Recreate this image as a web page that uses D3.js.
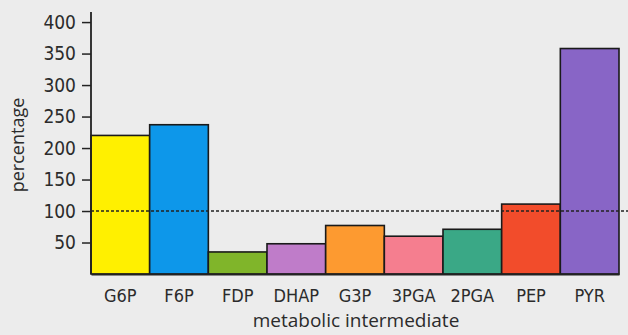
<!DOCTYPE html>
<html lang="en">
<head>
<meta charset="UTF-8">
<title>metabolic intermediates</title>
<script src="https://cdn.jsdelivr.net/npm/d3@7"></script>
<style>
    body { margin: 0; background-color: #ececec; }
    svg { display: block; }
    text { fill: #2b2b2b; }
</style>
</head>
<body>
<script>
    let width = 628;
    let height = 335;

    // data
    let categories = ["G6P", "F6P", "FDP", "DHAP", "G3P", "3PGA", "2PGA", "PEP", "PYR"];
    let values = [220, 237, 35, 48, 77, 60, 71, 111, 358];
    let colours = ["#fff000", "#0d97ea", "#80b52a", "#bf7cc9", "#fd9a30", "#f57e8f", "#3aa886", "#f24c2b", "#8865c6"];
    let yTicks = [50, 100, 150, 200, 250, 300, 350, 400];
    let reference = 100;

    let margin = { left: 91, right: 9, top: 12, bottom: 61 };
    let labelFont = "'Liberation Sans Narrow', 'DejaVu Sans Condensed', sans-serif";

    let x = d3.scaleBand()
        .domain(categories)
        .range([margin.left, width - margin.right])
        .padding(0);

    let y = d3.scaleLinear()
        .domain([0, 416])
        .range([height - margin.bottom, margin.top]);

    let svg = d3.select("body").append("svg")
        .attr("width", width)
        .attr("height", height);

    // bars
    svg.append("g").selectAll("rect")
        .data(categories)
        .enter().append("rect")
        .attr("x", d => x(d))
        .attr("y", (d, i) => y(values[i]))
        .attr("width", x.bandwidth())
        .attr("height", (d, i) => y(0) - y(values[i]))
        .style("fill", (d, i) => colours[i])
        .style("stroke", "#1a1a1a")
        .style("stroke-width", 1.6);

    // dotted 100% line
    svg.append("line")
        .attr("x1", margin.left)
        .attr("x2", width)
        .attr("y1", y(reference))
        .attr("y2", y(reference))
        .style("stroke", "#222")
        .style("stroke-width", 1.4)
        .style("stroke-dasharray", "3,2");

    // y axis
    let yAxis = d3.axisLeft(y)
        .tickValues(yTicks)
        .tickSize(9)
        .tickPadding(6);

    let gy = svg.append("g")
        .attr("transform", "translate(" + margin.left + ",0)")
        .call(yAxis);
    gy.select(".domain").remove();
    gy.selectAll(".tick line").style("stroke", "#222").style("stroke-width", 1.5);
    gy.selectAll(".tick text")
        .style("font-family", labelFont)
        .style("font-size", "19px")
        .style("fill", "#2b2b2b");
    gy.append("line")
        .attr("y1", margin.top)
        .attr("y2", y(0))
        .style("stroke", "#222")
        .style("stroke-width", 1.8);

    // x axis labels
    let xAxis = d3.axisBottom(x).tickSize(0).tickPadding(15);
    let gx = svg.append("g")
        .attr("transform", "translate(0," + y(0) + ")")
        .call(xAxis);
    gx.select(".domain")
        .style("stroke", "#222")
        .style("stroke-width", 1.8);
    gx.selectAll(".tick text")
        .style("font-family", labelFont)
        .style("font-size", "18px")
        .style("fill", "#2b2b2b");

    // axis titles
    svg.append("text")
        .attr("x", 356)
        .attr("y", 327)
        .attr("text-anchor", "middle")
        .style("font-family", "'Open Sans', sans-serif")
        .style("font-size", "19px")
        .text("metabolic intermediate");

    svg.append("text")
        .attr("transform", "translate(24,145) rotate(-90)")
        .attr("text-anchor", "middle")
        .style("font-family", "'Open Sans', sans-serif")
        .style("font-size", "18px")
        .text("percentage");
</script>
</body>
</html>
